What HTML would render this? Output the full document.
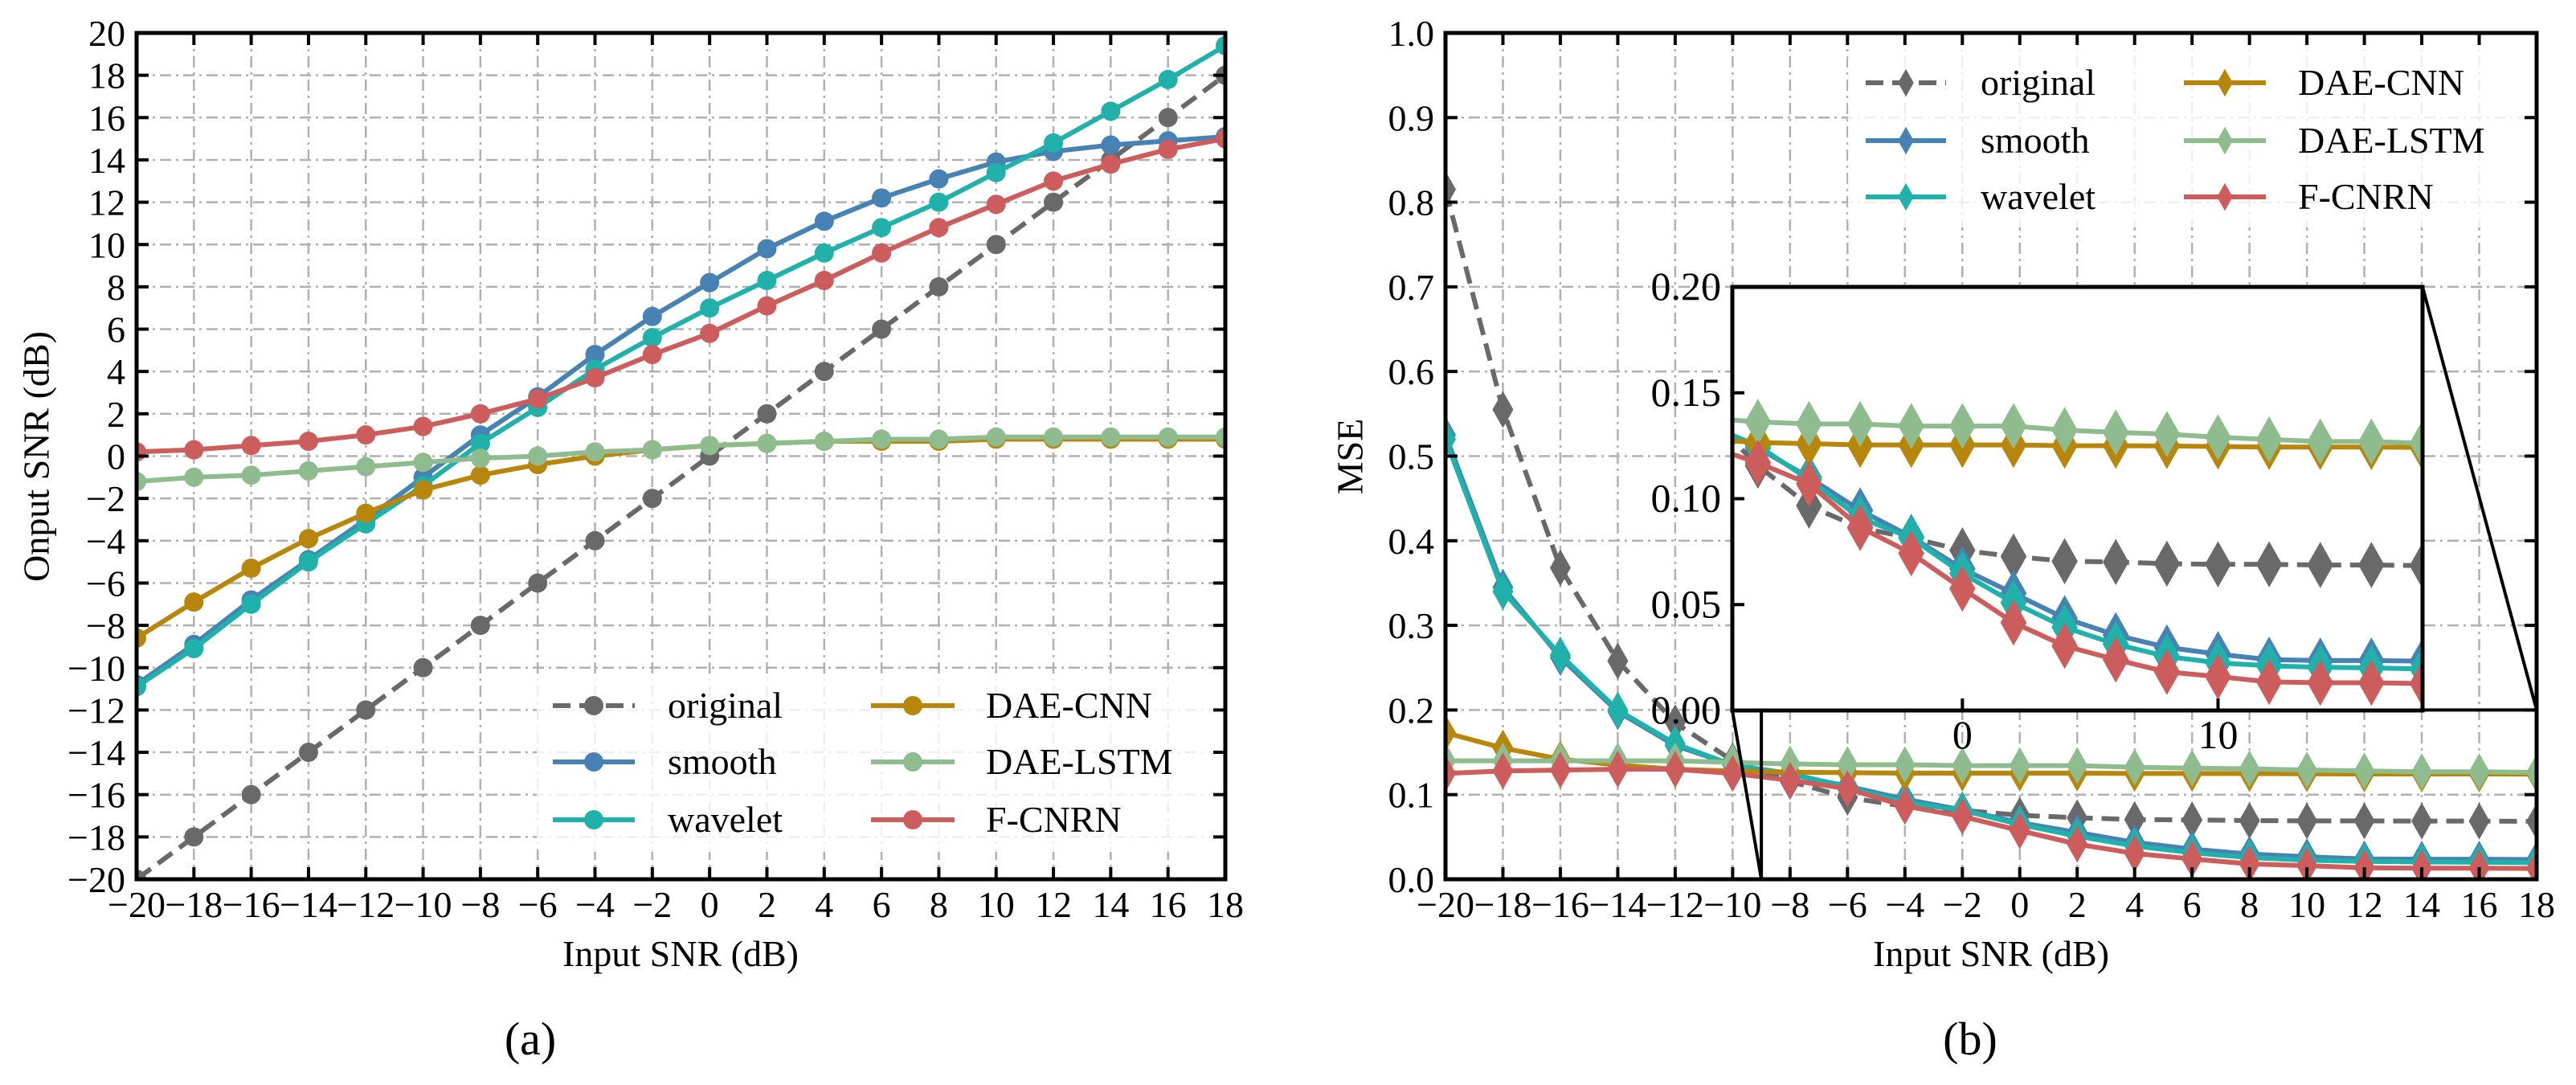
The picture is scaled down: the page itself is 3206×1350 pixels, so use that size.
<!DOCTYPE html>
<html><head><meta charset="utf-8"><style>
html,body{margin:0;padding:0;background:#fff;}
svg{display:block;font-family:"Liberation Serif","DejaVu Serif",serif;}
</style></head><body>
<svg id="fig" xmlns="http://www.w3.org/2000/svg" width="3206" height="1350" viewBox="0 0 3206 1350">
<defs>
<clipPath id="clipA"><rect x="170" y="41" width="1355" height="1053"/></clipPath>
<clipPath id="clipB"><rect x="1799" y="41" width="1358" height="1053"/></clipPath>
<clipPath id="clipI"><rect x="2156" y="357" width="859" height="527"/></clipPath>
</defs>
<g id="plotA"></g>
<g id="plotB"></g>
<text x="45" y="568" font-size="46" text-anchor="middle" dominant-baseline="central" transform="rotate(-90 45 568)">Onput SNR (dB)</text>
<text x="847" y="1202" font-size="46" text-anchor="middle">Input SNR (dB)</text>
<text x="660" y="1312" font-size="58" text-anchor="middle">(a)</text>
<text x="1680" y="568" font-size="46" text-anchor="middle" dominant-baseline="central" transform="rotate(-90 1680 568)">MSE</text>
<text x="2478" y="1202" font-size="46" text-anchor="middle">Input SNR (dB)</text>
<text x="2452" y="1312" font-size="58" text-anchor="middle">(b)</text>
</svg>
<script>
const snr = [-20,-18,-16,-14,-12,-10,-8,-6,-4,-2,0,2,4,6,8,10,12,14,16,18];
const outOriginal = [-20,-18,-16,-14,-12,-10,-8,-6,-4,-2,0,2,4,6,8,10,12,14,16,18];
const outSmooth = [-10.8,-8.9,-6.8,-4.9,-3.0,-1.0,1.0,2.8,4.8,6.6,8.2,9.8,11.1,12.2,13.1,13.9,14.4,14.7,14.9,15.1];
const outWavelet = [-10.9,-9.1,-7.0,-5.0,-3.2,-1.4,0.6,2.3,4.1,5.6,7.0,8.3,9.6,10.8,12.0,13.4,14.8,16.3,17.8,19.4];
const outDaeCnn = [-8.6,-6.9,-5.3,-3.9,-2.7,-1.6,-0.9,-0.4,0.0,0.3,0.5,0.6,0.7,0.7,0.7,0.8,0.8,0.8,0.8,0.8];
const outDaeLstm = [-1.2,-1.0,-0.9,-0.7,-0.5,-0.3,-0.1,0.0,0.2,0.3,0.5,0.6,0.7,0.8,0.8,0.9,0.9,0.9,0.9,0.9];
const outFcnrn = [0.2,0.3,0.5,0.7,1.0,1.4,2.0,2.7,3.7,4.8,5.8,7.1,8.3,9.6,10.8,11.9,13.0,13.8,14.5,15.0];
const mseOriginal = [0.815,0.555,0.368,0.258,0.185,0.14,0.1156,0.0967,0.0862,0.0815,0.0756,0.0727,0.0705,0.0701,0.0693,0.069,0.069,0.0687,0.0687,0.0684];
const mseSmooth = [0.525,0.345,0.262,0.198,0.158,0.135,0.124,0.110,0.0945,0.082,0.0669,0.0553,0.0436,0.0356,0.0298,0.0266,0.024,0.0236,0.0236,0.0233];
const mseWavelet = [0.52,0.34,0.265,0.20,0.16,0.135,0.125,0.109,0.0909,0.0815,0.0647,0.0509,0.0393,0.0313,0.0255,0.0225,0.0211,0.0204,0.0201,0.0196];
const mseDaeCnn = [0.173,0.155,0.142,0.135,0.13,0.128,0.1265,0.126,0.1254,0.1254,0.1254,0.1254,0.125,0.125,0.1249,0.1246,0.1244,0.1244,0.1244,0.1242];
const mseDaeLstm = [0.14,0.14,0.14,0.14,0.14,0.138,0.1363,0.1353,0.1353,0.1343,0.1343,0.1343,0.1324,0.1313,0.1305,0.129,0.128,0.127,0.127,0.1262];
const mseFcnrn = [0.125,0.128,0.129,0.13,0.13,0.125,0.117,0.107,0.0865,0.0742,0.0575,0.0415,0.0305,0.024,0.0182,0.016,0.0135,0.0131,0.0131,0.0127];
const xTicks = [-20,-18,-16,-14,-12,-10,-8,-6,-4,-2,0,2,4,6,8,10,12,14,16,18];
const yTicksA = [-20,-18,-16,-14,-12,-10,-8,-6,-4,-2,0,2,4,6,8,10,12,14,16,18,20];
const yTicksB = [0,0.1,0.2,0.3,0.4,0.5,0.6,0.7,0.8,0.9,1.0];
const yTicksInset = [0,0.05,0.10,0.15,0.20];
const xTicksInset = [0,10];
const seriesNames = ['original','smooth','wavelet','DAE-CNN','DAE-LSTM','F-CNRN'];
const seriesColors = ['#696969','#4682b4','#20b2aa','#b8860b','#8fbc8f','#cd5c5c'];

const NS='http://www.w3.org/2000/svg';
function mk(tag, attrs, parent){const e=document.createElementNS(NS,tag);for(const k in attrs)e.setAttribute(k,attrs[k]);if(parent)parent.appendChild(e);return e;}
function lin(d0,d1,r0,r1){return v=>r0+(v-d0)/(d1-d0)*(r1-r0);}
function fmtMinus(v){return String(v).replace('-','\u2212');}

function marker(g,type,x,y,col,s,name){
  let m;
  if(type==='circle'){m=mk('circle',{cx:x,cy:y,r:12*s,fill:col},g);}
  else{const w=13*s,h=23*s;m=mk('polygon',{points:`${x},${y-h} ${x+w},${y} ${x},${y+h} ${x-w},${y}`,fill:col},g);}
  
  
}
function series(g,xs,ys,X,Y,col,dashed,type,s,name){
  const pts=xs.map((x,i)=>X(x)+','+Y(ys[i])).join(' ');
  const pl=mk('polyline',{points:pts,fill:'none',stroke:col,'stroke-width':6,'stroke-dasharray':dashed?'22 11':'none','stroke-linejoin':'round'},g);
  
  
  xs.forEach((x,i)=>marker(g,type,X(x),Y(ys[i]),col,s,name+'-point'));
}
function axes(g,L,T,R,B,X,Y,xt,yt,name){
  xt.forEach(v=>{const l=mk('line',{x1:X(v),x2:X(v),y1:T,y2:B,stroke:'#b0b0b0','stroke-width':2.5,'stroke-dasharray':'14 6 3 6'},g);});
  yt.forEach(v=>{const l=mk('line',{x1:L,x2:R,y1:Y(v),y2:Y(v),stroke:'#b0b0b0','stroke-width':2.5,'stroke-dasharray':'14 6 3 6'},g);});
}
function frame(g,L,T,R,B,X,Y,xt,yt,xfmt,yfmt,tickLen,name,fs,allSides){
  xt.forEach(v=>{
    mk('line',{x1:X(v),x2:X(v),y1:B,y2:B-tickLen,stroke:'#000','stroke-width':4},g);
    if(allSides)mk('line',{x1:X(v),x2:X(v),y1:T,y2:T+tickLen,stroke:'#000','stroke-width':4},g);
    if(xfmt){const t=mk('text',{x:X(v),y:B+47,'font-size':fs,'text-anchor':'middle'},g);t.textContent=xfmt(v);}
  });
  yt.forEach(v=>{
    mk('line',{x1:L,x2:L+tickLen,y1:Y(v),y2:Y(v),stroke:'#000','stroke-width':4},g);
    if(allSides)mk('line',{x1:R,x2:R-tickLen,y1:Y(v),y2:Y(v),stroke:'#000','stroke-width':4},g);
    if(yfmt){const t=mk('text',{x:L-14,y:Y(v)+16,'font-size':fs,'text-anchor':'end'},g);t.textContent=yfmt(v);}
  });
  const r=mk('rect',{x:L,y:T,width:R-L,height:B-T,fill:'none',stroke:'#000','stroke-width':5},g);
  
  
}
function legend(g,bx,by,bw,bh,rows,c1,c2,type,name){
  const bg=mk('rect',{x:bx,y:by,width:bw,height:bh,rx:8,fill:'#fff','fill-opacity':0.8},g);
  
  
  seriesNames.forEach((n,i)=>{
    const col=i<3?c1:c2, y=rows[i%3];
    const eg=mk('g',{},g);
    
    
    mk('line',{x1:col[0],x2:col[1],y1:y,y2:y,stroke:seriesColors[i],'stroke-width':6,'stroke-dasharray':i===0?'22 11':'none'},eg);
    marker(eg,type,(col[0]+col[1])/2,y,seriesColors[i],type==='circle'?1:0.75,'legend-marker');
    const t=mk('text',{x:col[2],y:y+15,'font-size':46},eg);t.textContent=n;
  });
}
const allA=[outOriginal,outSmooth,outWavelet,outDaeCnn,outDaeLstm,outFcnrn];
const allB=[mseOriginal,mseSmooth,mseWavelet,mseDaeCnn,mseDaeLstm,mseFcnrn];

(function(){
  const g=document.getElementById('plotA');
  const L=170,T=41,R=1525,B=1094;
  const X=lin(-20,18,L,R),Y=lin(-20,20,B,T);
  axes(g,L,T,R,B,X,Y,xTicks,yTicksA,'plot-a');
  const sg=mk('g',{'clip-path':'url(#clipA)'},g);
  allA.forEach((ys,i)=>series(sg,snr,ys,X,Y,seriesColors[i],i===0,'circle',1,'plot-a-'+seriesNames[i].toLowerCase()));
  legend(g,668,838,848,222,[878,948,1020],[688,790,831],[1084,1188,1227],'circle','legend-a');
  frame(g,L,T,R,B,X,Y,xTicks,yTicksA,fmtMinus,fmtMinus,15,'plot-a',46,true);
})();
(function(){
  const g=document.getElementById('plotB');
  const L=1799,T=41,R=3157,B=1094;
  const X=lin(-20,18,L,R),Y=lin(0,1,B,T);
  axes(g,L,T,R,B,X,Y,xTicks,yTicksB,'plot-b');
  const sg=mk('g',{'clip-path':'url(#clipB)'},g);
  allB.forEach((ys,i)=>series(sg,snr,ys,X,Y,seriesColors[i],i===0,'diamond',1,'plot-b-'+seriesNames[i].toLowerCase()));
  legend(g,2300,58,850,225,[103,175,245],[2322,2422,2465],[2718,2820,2860],'diamond','legend-b');
  const ix0=-9,ix1=18,iy0=0,iy1=0.2;
  const zr=mk('rect',{x:X(ix0),y:Y(iy1),width:X(ix1)-X(ix0),height:Y(iy0)-Y(iy1),fill:'none',stroke:'#000','stroke-width':4},g);
  
  
  const IL=2156,IT=357,IR=3015,IB=884;
  const c1=mk('line',{x1:IL,y1:IB,x2:X(ix0),y2:Y(iy0),stroke:'#000','stroke-width':4},g);
  
  
  const c2=mk('line',{x1:IR,y1:IT,x2:X(ix1),y2:Y(iy1),stroke:'#000','stroke-width':4},g);
  
  
  const ig=mk('g',{},g);
  
  
  mk('rect',{x:IL,y:IT,width:IR-IL,height:IB-IT,fill:'#fff'},ig);
  const XI=lin(ix0,ix1,IL,IR),YI=lin(iy0,iy1,IB,IT);
  const isg=mk('g',{'clip-path':'url(#clipI)'},ig);
  allB.forEach((ys,i)=>series(isg,snr,ys,XI,YI,seriesColors[i],i===0,'diamond',1.25,'inset-'+seriesNames[i].toLowerCase()));
  frame(ig,IL,IT,IR,IB,XI,YI,xTicksInset,yTicksInset,v=>String(v),v=>v.toFixed(2),15,'inset',50,false);
  frame(g,L,T,R,B,X,Y,xTicks,yTicksB,fmtMinus,v=>v.toFixed(1),15,'plot-b',46,true);
})();
</script>
</body></html>
